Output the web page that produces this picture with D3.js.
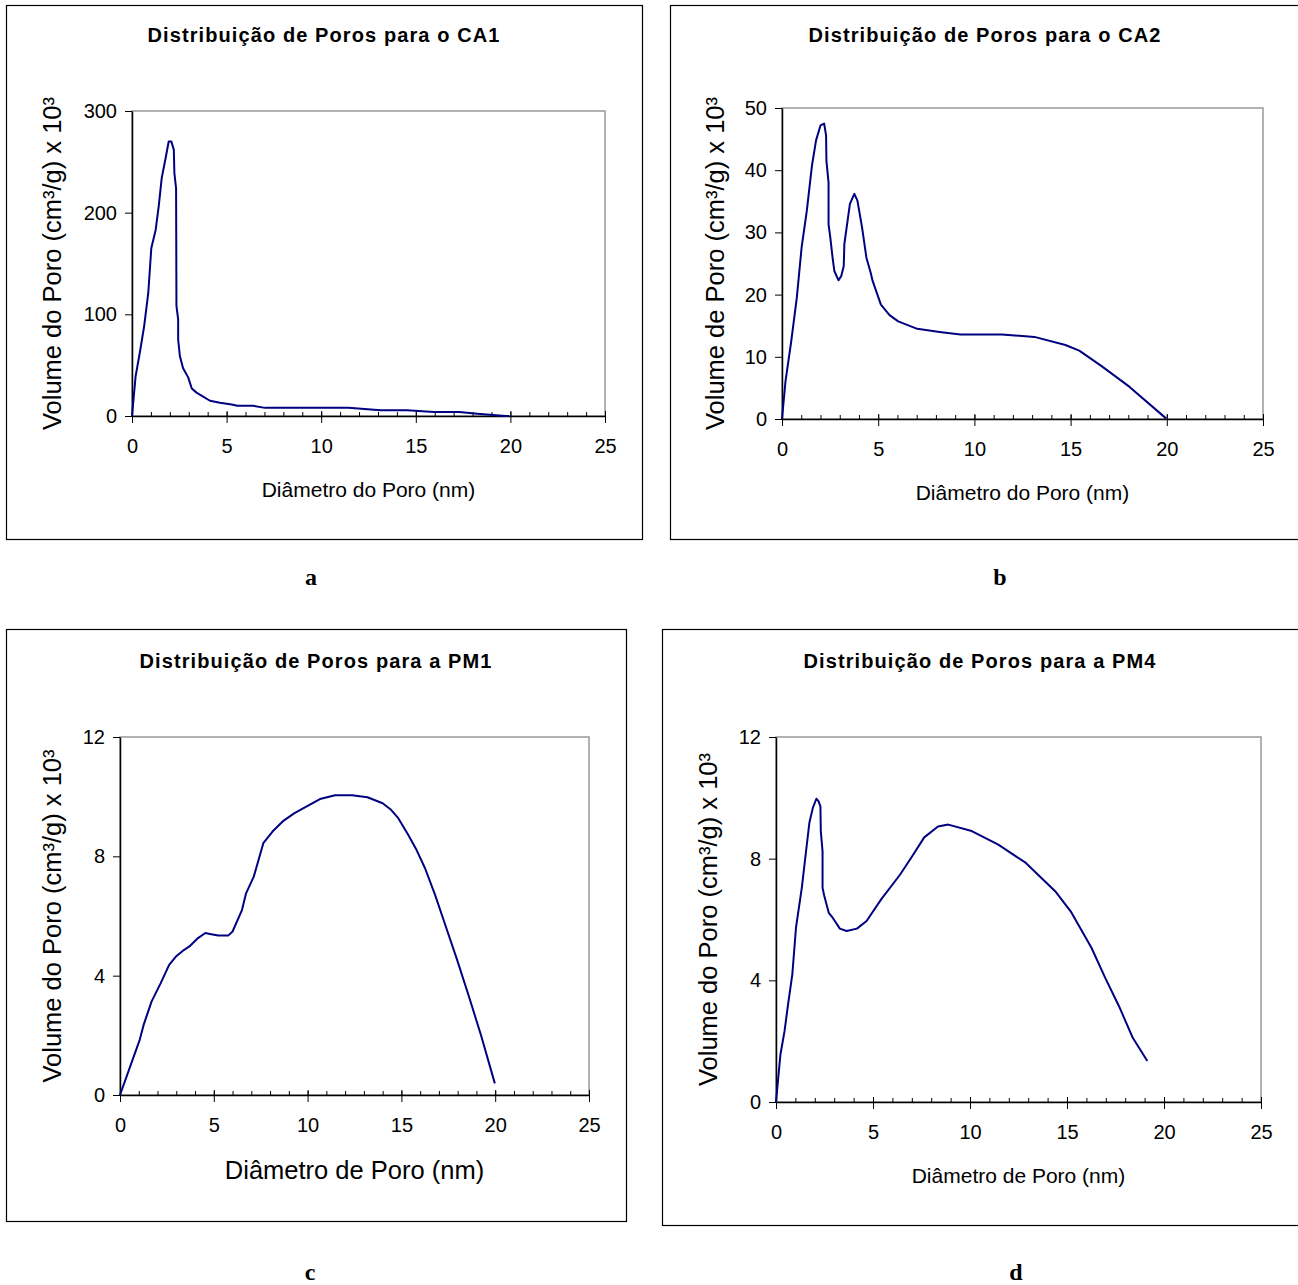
<!DOCTYPE html>
<html>
<head>
<meta charset="utf-8">
<script src="https://cdn.jsdelivr.net/npm/d3@7"></script>
<style>
  body { margin: 0; background: #fff; }
  svg { display: block; font-family: "Liberation Sans", Arial, sans-serif; }
</style>
</head>
<body>
<svg id="chart" width="1298" height="1285"></svg>
<script>
// pore diameter (nm) and pore volume (cm3/g x 10^3)
const ca1Diam = [0, 0.19, 0.41, 0.64, 0.86, 1.02, 1.25, 1.41, 1.57, 1.77, 1.94, 2.08, 2.21, 2.24, 2.33, 2.35, 2.44, 2.44, 2.53, 2.7, 2.97, 3.16, 3.41, 3.76, 4.12, 4.65, 5.27, 5.57, 6.41, 7.03, 8.53, 11.45, 13.13, 14.54, 15.95, 17.3, 18.25, 19.75, 19.93];
const ca1Vol  = [0, 39, 62, 88, 121, 165, 183, 206, 234, 253, 270, 270, 262, 239, 224, 108, 95, 75, 59, 47, 38, 27, 23, 19, 15, 13, 11.4, 10, 10, 8, 8, 8, 5.6, 5.6, 4, 4, 2.3, 0, 0];

const ca2Diam = [0, 0.18, 0.48, 0.77, 1.02, 1.29, 1.56, 1.77, 2.0, 2.19, 2.29, 2.31, 2.42, 2.42, 2.51, 2.63, 2.72, 2.94, 3.08, 3.21, 3.24, 3.53, 3.76, 3.92, 4.16, 4.39, 4.61, 4.71, 5.14, 5.59, 6.04, 7.03, 8.19, 9.27, 11.42, 13.12, 14.73, 15.45, 16.61, 18.05, 19.96];
const ca2Vol  = [0, 6, 12.5, 19.5, 27.6, 33.5, 40.8, 44.8, 47.2, 47.5, 45.6, 41.5, 38, 31.3, 29.2, 25.9, 23.8, 22.3, 23, 24.6, 28.1, 34.6, 36.2, 35.1, 30.8, 25.9, 23.5, 22.2, 18.4, 16.7, 15.7, 14.5, 14.0, 13.6, 13.6, 13.2, 11.9, 11.0, 8.5, 5.2, 0.1];

const pm1Diam = [0, 0.54, 1.05, 1.26, 1.68, 2.17, 2.62, 2.98, 3.34, 3.7, 4.16, 4.55, 4.79, 5.24, 5.78, 6.0, 6.5, 6.72, 7.13, 7.64, 8.13, 8.67, 9.3, 9.93, 10.66, 11.47, 12.37, 13.19, 14.0, 14.45, 14.81, 15.36, 15.81, 16.26, 16.8, 17.34, 17.97, 18.6, 19.24, 19.98];
const pm1Vol  = [0, 0.95, 1.85, 2.35, 3.13, 3.75, 4.36, 4.64, 4.83, 4.98, 5.26, 5.43, 5.4, 5.35, 5.35, 5.48, 6.2, 6.76, 7.32, 8.44, 8.83, 9.17, 9.45, 9.67, 9.92, 10.05, 10.05, 9.98, 9.78, 9.56, 9.3, 8.72, 8.21, 7.6, 6.7, 5.7, 4.53, 3.3, 2.01, 0.39];

const pm4Diam = [0, 0.23, 0.44, 0.62, 0.84, 1.03, 1.33, 1.51, 1.72, 1.9, 2.08, 2.19, 2.29, 2.31, 2.4, 2.4, 2.49, 2.72, 2.93, 3.29, 3.64, 4.17, 4.67, 5.42, 6.4, 7.02, 7.64, 8.35, 8.88, 10.04, 11.46, 12.88, 14.39, 15.19, 16.26, 16.97, 17.68, 18.39, 19.14];
const pm4Vol  = [0, 1.57, 2.33, 3.2, 4.19, 5.73, 7.04, 8.03, 9.18, 9.67, 9.97, 9.89, 9.72, 8.9, 8.24, 7.04, 6.77, 6.22, 6.05, 5.7, 5.62, 5.7, 5.95, 6.66, 7.48, 8.08, 8.7, 9.06, 9.12, 8.92, 8.46, 7.86, 6.93, 6.27, 5.07, 4.08, 3.15, 2.11, 1.35];

const xTicks = [0, 5, 10, 15, 20, 25];
const xMinor = d3.range(0, 26, 1);
const ca1YTicks = [0, 100, 200, 300];
const ca2YTicks = [0, 10, 20, 30, 40, 50];
const pmYTicks = [0, 4, 8, 12];

const titles = ["Distribuição de Poros para o CA1", "Distribuição de Poros para o CA2",
                "Distribuição de Poros para a PM1", "Distribuição de Poros para a PM4"];
const yLabels = ["Volume do Poro (cm³/g) x 10³", "Volume de Poro (cm³/g) x 10³",
                 "Volume do Poro (cm³/g) x 10³", "Volume do Poro (cm³/g) x 10³"];
const xLabels = ["Diâmetro do Poro (nm)", "Diâmetro do Poro (nm)",
                 "Diâmetro de Poro (nm)", "Diâmetro de Poro (nm)"];
const captions = ["a", "b", "c", "d"];

const panels = [
  { diam: ca1Diam, vol: ca1Vol, yTicks: ca1YTicks,
    frame: [6, 5, 636, 534], plot: [132, 111, 605, 416],
    titleXY: [324, 42], yLabX: 52, xLabY: 497, xLabSize: 21, capXY: [311, 585] },
  { diam: ca2Diam, vol: ca2Vol, yTicks: ca2YTicks,
    frame: [670, 5, 640, 534], plot: [782, 108, 1263, 419],
    titleXY: [985, 42], yLabX: 715, xLabY: 500, xLabSize: 21, capXY: [1000, 585] },
  { diam: pm1Diam, vol: pm1Vol, yTicks: pmYTicks,
    frame: [6, 629, 620, 592], plot: [120, 737, 589, 1095],
    titleXY: [316, 668], yLabX: 52, xLabY: 1179, xLabSize: 25.5, capXY: [310, 1280] },
  { diam: pm4Diam, vol: pm4Vol, yTicks: pmYTicks,
    frame: [662, 629, 650, 596], plot: [776, 737, 1261, 1102],
    titleXY: [980, 668], yLabX: 708, xLabY: 1183, xLabSize: 21, capXY: [1016, 1280] }
];

const svg = d3.select("#chart");

panels.forEach((p, i) => {
  const [x0, y0, x1, y1] = p.plot;
  const x = d3.scaleLinear().domain([0, 25]).range([x0, x1]);
  const y = d3.scaleLinear().domain([0, d3.max(p.yTicks)]).range([y1, y0]);

  // outer frame
  svg.append("rect")
    .attr("x", p.frame[0] + 0.5).attr("y", p.frame[1] + 0.5)
    .attr("width", p.frame[2]).attr("height", p.frame[3])
    .attr("fill", "#fff").attr("stroke", "#000").attr("stroke-width", 1.2);

  // plot area border (grey on top and right)
  svg.append("rect")
    .attr("x", x0).attr("y", y0)
    .attr("width", x1 - x0).attr("height", y1 - y0)
    .attr("fill", "#fff").attr("stroke", "#999").attr("stroke-width", 1.5);

  svg.append("text")
    .attr("x", p.titleXY[0]).attr("y", p.titleXY[1])
    .attr("text-anchor", "middle")
    .attr("font-size", 20).attr("font-weight", "bold")
    .attr("letter-spacing", 1.1)
    .text(titles[i]);

  // minor ticks (inside)
  svg.append("g")
    .attr("transform", `translate(0,${y1})`)
    .call(d3.axisBottom(x).tickValues(xMinor).tickSize(-4).tickFormat(""))
    .call(g => g.select(".domain").remove())
    .selectAll("line").attr("stroke", "#000");

  // major x ticks (cross)
  const gx = svg.append("g")
    .attr("transform", `translate(0,${y1})`)
    .call(d3.axisBottom(x).tickValues(xTicks).tickSize(7).tickPadding(16).tickSizeOuter(0));
  gx.selectAll(".tick line").attr("y1", -5);
  gx.select(".domain").attr("stroke-width", 1.5);
  gx.selectAll("text").attr("font-size", 20).attr("font-family", "Liberation Sans, Arial, sans-serif");

  const gy = svg.append("g")
    .attr("transform", `translate(${x0},0)`)
    .call(d3.axisLeft(y).tickValues(p.yTicks).tickSize(7).tickPadding(8).tickSizeOuter(0));
  gy.select(".domain").attr("stroke-width", 1.5);
  gy.selectAll("text").attr("font-size", 20).attr("font-family", "Liberation Sans, Arial, sans-serif");

  svg.append("text")
    .attr("transform", `translate(${p.yLabX},${(y0 + y1) / 2}) rotate(-90)`)
    .attr("text-anchor", "middle").attr("dy", "0.35em")
    .attr("font-size", 25.5)
    .text(yLabels[i]);

  svg.append("text")
    .attr("x", (x0 + x1) / 2).attr("y", p.xLabY)
    .attr("text-anchor", "middle")
    .attr("font-size", p.xLabSize)
    .text(xLabels[i]);

  const line = d3.line().x((d, k) => x(d)).y((d, k) => y(p.vol[k]));
  svg.append("path")
    .datum(p.diam)
    .attr("d", line)
    .attr("fill", "none")
    .attr("stroke", "#000080")
    .attr("stroke-width", 2)
    .attr("stroke-linejoin", "round");

  svg.append("text")
    .attr("x", p.capXY[0]).attr("y", p.capXY[1])
    .attr("text-anchor", "middle")
    .attr("font-family", "Liberation Serif, Times New Roman, serif")
    .attr("font-weight", "bold").attr("font-size", 24)
    .text(captions[i]);
});
</script>
</body>
</html>
